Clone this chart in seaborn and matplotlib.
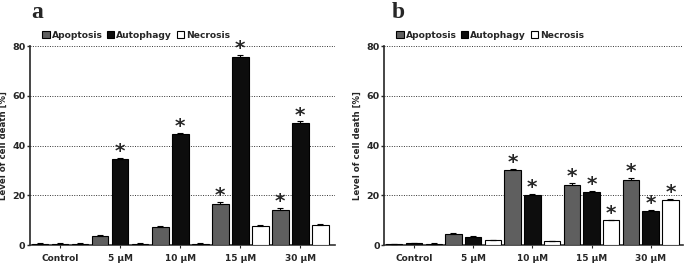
import numpy as np
import pandas as pd
import matplotlib
matplotlib.use('Agg')
import matplotlib.pyplot as plt
from matplotlib.patches import Patch
import seaborn as sns

# 데이터
conc = ['Control', '5 µM', '10 µM', '15 µM', '30 µM']
death_types = ['Apoptosis', 'Autophagy', 'Necrosis']

a_apoptosis = [0.5, 3.5, 7.2, 16.6, 14.2]
a_autophagy = [0.6, 34.5, 44.5, 75.8, 49.2]
a_necrosis = [0.6, 0.5, 0.6, 7.8, 8.2]
a_err_apoptosis = [0.2, 0.4, 0.4, 0.7, 0.7]
a_err_autophagy = [0.2, 0.5, 0.4, 0.5, 0.5]
a_err_necrosis = [0.2, 0.2, 0.2, 0.4, 0.4]
a_star_apoptosis = [0, 0, 0, 1, 1]
a_star_autophagy = [0, 1, 1, 1, 1]
a_star_necrosis = [0, 0, 0, 0, 0]

b_apoptosis = [0.3, 4.6, 30.2, 24.3, 26.0]
b_autophagy = [0.7, 3.3, 20.2, 21.3, 13.7]
b_necrosis = [0.5, 1.9, 1.5, 9.9, 18.3]
b_err_apoptosis = [0.2, 0.2, 0.4, 0.5, 0.8]
b_err_autophagy = [0.2, 0.2, 0.4, 0.3, 0.3]
b_err_necrosis = [0.2, 0.2, 0.2, 0.4, 0.4]
b_star_apoptosis = [0, 0, 1, 1, 1]
b_star_autophagy = [0, 0, 1, 1, 1]
b_star_necrosis = [0, 0, 0, 1, 1]

colors = ['#5f5f5f', '#0d0d0d', '#ffffff']

sns.set_style('ticks')
plt.rcParams['font.family'] = ['DejaVu Sans']
plt.rcParams['font.weight'] = 'bold'

fig = plt.figure(figsize=(6.84, 2.65), dpi=100)
ax_a = fig.add_axes([0.044, 0.075, 0.446, 0.751])
ax_b = fig.add_axes([0.562, 0.075, 0.436, 0.751])

panels = [
    (ax_a, 'a', 0.046, [a_apoptosis, a_autophagy, a_necrosis],
     [a_err_apoptosis, a_err_autophagy, a_err_necrosis],
     [a_star_apoptosis, a_star_autophagy, a_star_necrosis], 4.58),
    (ax_b, 'b', 0.572, [b_apoptosis, b_autophagy, b_necrosis],
     [b_err_apoptosis, b_err_autophagy, b_err_necrosis],
     [b_star_apoptosis, b_star_autophagy, b_star_necrosis], 4.54),
]

for ax, letter, lx, vals, errs, stars, xmax in panels:
    df = pd.DataFrame({
        'conc': conc * 3,
        'type': np.repeat(death_types, len(conc)),
        'value': vals[0] + vals[1] + vals[2],
    })
    sns.barplot(data=df, x='conc', y='value', hue='type', hue_order=death_types,
                palette=colors, edgecolor='black', linewidth=0.8,
                width=1.0, gap=0.17, errorbar=None, legend=False, ax=ax,
                zorder=3)
    # 에러바 + 별표
    for cont, err, star in zip(ax.containers, errs, stars):
        xs = [p.get_x() + p.get_width() / 2 for p in cont.patches]
        hs = [p.get_height() for p in cont.patches]
        ax.errorbar(xs, hs, yerr=[np.zeros(len(err)), err], fmt='none',
                    ecolor='black', elinewidth=0.8, capsize=2.5, capthick=0.8,
                    zorder=4)
        for x, h, e, s in zip(xs, hs, err, star):
            if s:
                ax.text(x, h + e + 2.6, '*', ha='center', va='center',
                        fontsize=14.5, fontweight='bold', zorder=5)

    ax.set_ylim(0, 80)
    ax.set_xlim(-0.5, xmax)
    ax.set_yticks([0, 20, 40, 60, 80])
    ax.yaxis.grid(True, linestyle=(0, (1, 1.5)), color='#333333', linewidth=0.7, zorder=0)
    ax.set_axisbelow(True)
    ax.set_xlabel('')
    ax.set_ylabel('Level of cell death [%]', fontsize=6.2, fontweight='bold', labelpad=3)
    ax.tick_params(axis='x', length=2.5, width=0.8, labelsize=6.5, pad=4)
    ax.tick_params(axis='y', length=2.5, width=1, labelsize=6.8, pad=1)
    for lab in ax.get_xticklabels() + ax.get_yticklabels():
        lab.set_fontweight('bold')
    sns.despine(ax=ax)
    ax.spines['left'].set_linewidth(1.2)
    ax.spines['bottom'].set_linewidth(1.2)
    ax.spines['bottom'].set_color('#333333')

    handles = [Patch(facecolor=c, edgecolor='black', linewidth=0.8) for c in colors]
    ax.legend(handles, death_types, loc='center left', bbox_to_anchor=(0.04, 1.055),
              ncol=3, frameon=False, handlelength=0.8, handleheight=0.8,
              handletextpad=0.2, columnspacing=0.5, borderaxespad=0, borderpad=0,
              prop={'size': 6.6, 'weight': 'bold'})
    fig.text(lx, 1 - 17.5 / 265, letter, fontsize=17, fontweight='bold',
             family='Liberation Serif', ha='left', va='baseline')

fig.savefig('out.png', dpi=100)
